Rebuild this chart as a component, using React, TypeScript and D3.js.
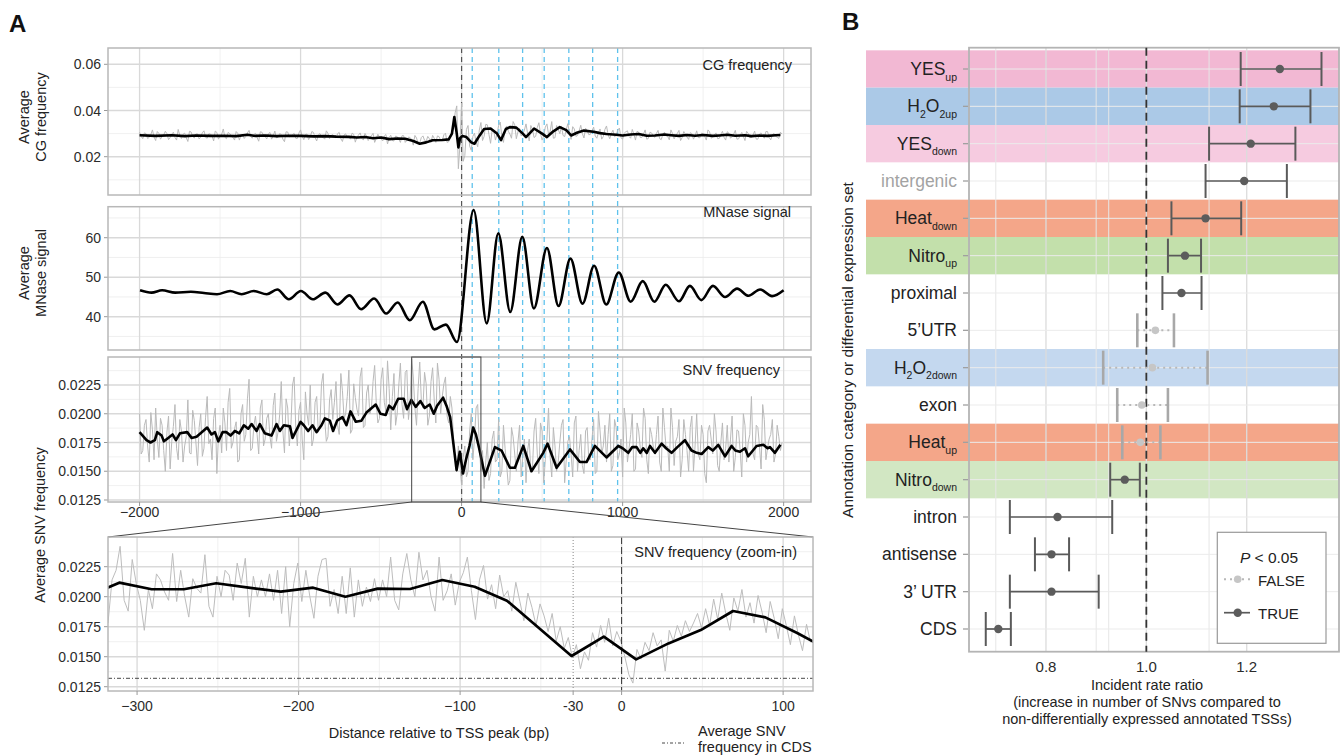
import * as d3 from "d3";

const FONT = "'Liberation Sans', Arial, Helvetica, sans-serif";

// ---------------- Panel A data ----------------
const topTicks = [-2000, -1000, 0, 1000, 2000];
const topTickLabels = ["−2000", "−1000", "0", "1000", "2000"];
const topMinor = [-1500, -500, 500, 1500];
// nucleosome positions marked with blue dashed lines
const nucleosomePeaks = [66, 231, 379, 513, 666, 814, 969];

// CG frequency (values x1e4)
const cgTicks = [0.02, 0.04, 0.06];
const cgMinor = [0.01, 0.03, 0.05];
const cgSmooth: [number, number][] = [
  [-2000, 293], [-1900, 290], [-1800, 293], [-1720, 289], [-1650, 292], [-1560, 290], [-1480, 291],
  [-1400, 289], [-1330, 295], [-1280, 290], [-1220, 292], [-1150, 289], [-1080, 291], [-1000, 290],
  [-920, 288], [-850, 289], [-780, 287], [-700, 286], [-650, 283], [-600, 285], [-550, 280], [-500, 283],
  [-450, 276], [-400, 279], [-350, 278], [-300, 268], [-260, 256], [-220, 262], [-180, 271], [-120, 272],
  [-80, 275], [-60, 300], [-45, 372], [-30, 300], [-20, 240], [-10, 280], [5, 290], [30, 285], [60, 262],
  [80, 256], [110, 290], [140, 320], [180, 322], [220, 300], [245, 272], [275, 320], [300, 328], [340, 326],
  [380, 300], [400, 285], [450, 322], [500, 300], [530, 285], [570, 310], [610, 328], [650, 315], [680, 292],
  [720, 305], [760, 313], [820, 308], [860, 302], [900, 298], [960, 295], [1000, 292], [1050, 296],
  [1100, 298], [1150, 291], [1200, 292], [1260, 296], [1300, 293], [1350, 290], [1400, 294], [1450, 291],
  [1500, 294], [1560, 290], [1600, 292], [1650, 295], [1700, 291], [1760, 293], [1800, 289], [1850, 292],
  [1900, 290], [1950, 293], [1980, 294],
];
// raw CG frequency (x1e4): series A every 20 bp from -2000, series B every 20 bp from -1990
const rawStart = -2000;
const rawStep = 20;
const cgRawA = [
  306, 278, 300, 284, 316, 270, 301, 288, 310, 274, 297, 283, 318, 279, 302, 266, 307, 281, 299, 285,
  312, 280, 298, 268, 305, 289, 320, 278, 300, 284, 309, 272, 296, 288, 314, 280, 301, 267, 306, 287,
  299, 276, 311, 284, 296, 265, 307, 288, 301, 279, 316, 274, 298, 286, 305, 268, 300, 283, 312, 278,
  296, 281, 305, 266, 299, 284, 302, 263, 294, 280, 301, 270, 291, 262, 297, 277, 290, 255, 293, 268,
  287, 262, 291, 270, 283, 250, 281, 260, 290, 266, 278, 292, 262, 287, 270, 302, 265, 305, 390, 148,
  432, 205, 335, 228, 302, 243, 348, 288, 338, 258, 312, 297, 350, 262, 333, 298, 352, 278, 323, 297,
  342, 268, 318, 288, 347, 272, 328, 297, 352, 282, 318, 333, 287, 343, 275, 320, 292, 336, 281, 314,
  297, 328, 280, 320, 287, 333, 278, 315, 292, 324, 276, 308, 287, 318, 272, 306, 284, 316, 279, 303,
  284, 314, 274, 306, 288, 316, 277, 301, 270, 309, 285, 304, 276, 312, 282, 300, 272, 308, 286, 303,
  279, 310, 272, 302, 287, 314, 277, 305, 270, 301, 284, 311, 276, 303, 280, 309, 273, 301, 285, 306,
];
const cgRawB = [
  288, 303, 279, 296, 285, 309, 276, 294, 300, 283, 306, 272, 292, 297, 282, 310, 287, 298, 277, 304,
  284, 299, 291, 311, 276, 297, 284, 305, 290, 272, 301, 293, 279, 303, 288, 296, 283, 308, 292, 277,
  305, 289, 282, 300, 276, 308, 286, 295, 280, 303, 289, 296, 274, 309, 283, 294, 288, 276, 301, 292,
  287, 300, 278, 294, 283, 276, 297, 285, 303, 272, 289, 282, 301, 279, 285, 268, 296, 283, 270, 289,
  276, 291, 262, 285, 274, 292, 258, 283, 271, 288, 262, 280, 290, 270, 295, 262, 290, 320, 420, 250,
  180, 318, 246, 288, 262, 315, 270, 340, 296, 318, 272, 335, 286, 318, 310, 280, 338, 308, 290, 315,
  300, 335, 283, 326, 300, 290, 342, 310, 280, 335, 300, 292, 318, 302, 330, 288, 312, 300, 323, 295,
  312, 290, 305, 276, 318, 295, 300, 287, 315, 282, 302, 312, 280, 298, 310, 283, 298, 276, 306, 290,
  301, 278, 296, 290, 273, 300, 292, 314, 283, 296, 275, 300, 290, 283, 302, 288, 316, 280, 294, 278,
  296, 284, 308, 280, 298, 276, 292, 288, 310, 282, 294, 276, 298, 290, 309, 283, 295, 288, 279, 298,
];

// MNase signal (peaks and troughs)
const mnaseTicks = [40, 50, 60];
const mnaseMinor = [35, 45, 55, 65];
const mnaseSmooth: [number, number][] = [
  [-1997, 46.7], [-1925, 46.1], [-1860, 46.7], [-1779, 46.1], [-1681, 46.3], [-1600, 46.0], [-1519, 45.7],
  [-1437, 46.5], [-1366, 45.7], [-1291, 46.5], [-1210, 45.7], [-1145, 46.9], [-1073, 44.4], [-998, 46.5],
  [-924, 44.4], [-846, 46.1], [-771, 43.1], [-696, 45.4], [-624, 41.9], [-543, 44.6], [-468, 40.8],
  [-397, 43.6], [-322, 39.1], [-241, 43.8], [-169, 36.8], [-98, 38.0], [-29, 33.6], [75, 67.0], [156, 38.3],
  [228, 61.1], [302, 41.2], [377, 60.2], [449, 42.1], [530, 57.4], [602, 42.7], [676, 54.7], [751, 43.3],
  [823, 52.9], [898, 43.1], [976, 51.2], [1050, 43.8], [1125, 49.0], [1197, 43.8], [1268, 48.1],
  [1350, 43.9], [1418, 47.8], [1489, 44.2], [1561, 47.8], [1636, 45.0], [1711, 47.1], [1782, 45.3],
  [1854, 46.9], [1928, 45.2], [2000, 46.7],
];

// SNV frequency (x1e4)
const snvTicks = [0.0125, 0.015, 0.0175, 0.02, 0.0225];
const snvMinor = [0.01375, 0.01625, 0.01875, 0.02125, 0.02375];
const snvTickLabels = ["0.0125", "0.0150", "0.0175", "0.0200", "0.0225"];
const snvSmooth: [number, number][] = [
  [-2000, 184], [-1981, 181], [-1957, 177], [-1932, 175], [-1905, 177], [-1890, 184], [-1863, 181],
  [-1849, 176], [-1822, 179], [-1795, 182], [-1774, 177], [-1749, 183], [-1704, 184], [-1677, 179],
  [-1646, 180], [-1621, 183], [-1580, 188], [-1553, 182], [-1532, 184], [-1511, 176], [-1484, 184],
  [-1460, 184], [-1435, 181], [-1408, 185], [-1381, 183], [-1352, 190], [-1325, 187], [-1304, 191],
  [-1273, 185], [-1253, 191], [-1222, 183], [-1180, 181], [-1149, 191], [-1129, 185], [-1104, 190],
  [-1066, 189], [-1050, 179], [-1025, 186], [-1000, 193], [-980, 190], [-953, 185], [-926, 190],
  [-901, 184], [-870, 190], [-849, 196], [-818, 194], [-798, 185], [-773, 194], [-740, 197], [-715, 190],
  [-690, 202], [-657, 193], [-622, 194], [-591, 201], [-533, 208], [-504, 200], [-471, 199], [-450, 207],
  [-425, 204], [-394, 213], [-359, 213], [-339, 204], [-312, 212], [-285, 206], [-256, 211], [-229, 205],
  [-198, 208], [-173, 200], [-152, 207], [-115, 214], [-94, 207], [-71, 197], [-31, 151], [-11, 167],
  [9, 148], [29, 161], [49, 172], [72, 188], [89, 182], [109, 170], [145, 146], [207, 171], [248, 168],
  [300, 153], [331, 153], [383, 172], [434, 150], [507, 166], [534, 174], [590, 153], [673, 169],
  [735, 158], [776, 158], [828, 172], [900, 162], [973, 172], [1000, 170], [1035, 166], [1060, 171],
  [1087, 171], [1110, 166], [1128, 170], [1150, 166], [1170, 172], [1201, 166], [1242, 174], [1270, 170],
  [1304, 166], [1340, 171], [1387, 177], [1428, 168], [1460, 166], [1491, 165], [1532, 171], [1560, 168],
  [1594, 173], [1636, 163], [1677, 172], [1700, 168], [1729, 167], [1760, 170], [1780, 163], [1832, 172],
  [1874, 173], [1900, 170], [1915, 171], [1946, 166], [1980, 173],
];
// raw SNV frequency (x1e4): series A every 20 bp from -2000, series B every 20 bp from -1990
const snvRawA = [
  200, 168, 195, 158, 186, 205, 162, 190, 150, 198, 176, 208, 160, 185, 172, 212, 165, 194, 155, 200,
  170, 215, 178, 196, 148, 190, 205, 168, 222, 175, 193, 160, 208, 182, 230, 170, 198, 165, 212, 178,
  200, 170, 218, 184, 228, 166, 205, 190, 232, 172, 210, 160, 200, 225, 178, 215, 190, 235, 176, 212,
  195, 228, 182, 220, 200, 238, 186, 214, 198, 240, 190, 225, 205, 242, 192, 230, 210, 246, 186, 235,
  200, 244, 196, 238, 210, 232, 190, 245, 205, 226, 198, 240, 192, 230, 215, 232, 192, 205, 160, 172,
  138, 172, 150, 200, 178, 208, 150, 135, 175, 148, 185, 160, 145, 190, 155, 142, 180, 150, 190, 162,
  140, 178, 152, 196, 148, 185, 160, 205, 145, 172, 158, 190, 140, 176, 165, 192, 150, 182, 148, 188,
  160, 195, 150, 185, 172, 158, 200, 155, 188, 165, 145, 192, 170, 200, 152, 185, 162, 196, 148, 182,
  165, 198, 150, 188, 172, 205, 155, 180, 145, 195, 168, 188, 150, 200, 160, 182, 140, 190, 165, 185,
  150, 192, 170, 158, 198, 162, 185, 145, 190, 175, 215, 160, 188, 152, 195, 170, 182, 158, 190, 168,
];
const snvRawB = [
  165, 190, 172, 201, 160, 178, 196, 168, 184, 152, 189, 170, 195, 158, 180, 166, 203, 175, 188, 163,
  197, 174, 160, 205, 181, 166, 192, 210, 170, 187, 158, 200, 176, 213, 168, 190, 182, 205, 172, 196,
  180, 207, 176, 199, 185, 213, 172, 225, 188, 203, 178, 219, 190, 172, 210, 184, 226, 195, 180, 221,
  210, 190, 235, 196, 215, 183, 226, 204, 232, 188, 218, 200, 228, 210, 196, 240, 202, 222, 215, 190,
  225, 208, 236, 195, 248, 205, 222, 212, 236, 190, 228, 212, 244, 200, 226, 198, 215, 178, 150, 155,
  162, 145, 185, 160, 205, 172, 168, 158, 142, 178, 158, 195, 150, 170, 138, 188, 165, 175, 145, 178,
  168, 150, 185, 165, 192, 140, 178, 162, 188, 150, 175, 195, 160, 180, 145, 198, 168, 155, 185, 160,
  178, 148, 202, 165, 190, 182, 150, 195, 160, 178, 205, 158, 182, 150, 192, 170, 205, 160, 188, 172,
  182, 158, 205, 170, 150, 188, 176, 195, 160, 182, 150, 198, 172, 165, 190, 148, 185, 178, 200, 155,
  175, 160, 190, 178, 150, 186, 168, 200, 158, 182, 165, 190, 172, 208, 160, 178, 195, 165, 180, 175,
];

// zoom-in on the TSS
const zoomWindow = [-310, 120];
const zoomTicks = [-300, -200, -100, -30, 0, 100];
const zoomTickLabels = ["−300", "−200", "−100", "-30", "0", "100"];
const zoomMinor = [-250, -150, -50, 50];
const zoomSmooth: [number, number][] = [
  [-331, 200], [-311, 211.7], [-291, 206.2], [-271, 206.2], [-251, 211.2], [-231, 207.5], [-211, 204.2],
  [-191, 207.5], [-171, 200], [-151, 206.7], [-131, 206.4], [-111, 213.9], [-91, 208.3], [-71, 196.7],
  [-31, 150.6], [-11, 166.7], [9, 147.8], [29, 161.1], [49, 172.2], [69, 188.1], [89, 182.8], [109, 169.5],
  [129, 155],
];
// raw SNV frequency every 2.5 bp from -318 (x1e4)
const zoomRawStart = -318;
const zoomRawStep = 2.5;
const zoomRaw = [
  178, 214, 222, 242, 197, 188, 231, 211, 197, 172, 206, 190, 219, 214, 204, 197, 236, 196, 222, 200,
  183, 215, 207, 203, 235, 192, 183, 217, 200, 222, 218, 197, 228, 211, 232, 183, 217, 200, 214, 200,
  219, 197, 222, 186, 225, 175, 211, 228, 196, 222, 200, 182, 217, 231, 232, 192, 206, 186, 217, 186,
  224, 183, 214, 192, 208, 196, 215, 197, 214, 200, 233, 197, 189, 219, 236, 214, 200, 237, 214, 222,
  200, 188, 233, 197, 205, 219, 193, 212,
  220, 233, 205, 181, 214, 226, 198, 210, 190, 218, 200,
  205, 188, 212, 196, 180, 203, 191, 176, 194, 184,
  171, 186, 163, 175, 157, 166, 149, 160, 140, 154,
  147, 170, 158, 176, 162, 182, 159, 171, 163,
  150, 135, 128, 156,
  148, 162, 155, 170, 159, 164, 138, 172, 163, 176, 167, 180, 171, 178, 186, 174,
  190, 176, 198, 181, 203, 186, 172, 199, 188, 206, 183, 195, 178, 201, 187, 170, 196, 182, 165, 190,
  176, 160, 184, 168, 155, 177, 162,
];
const cdsAverage = 0.0132;

// ---------------- Panel B data ----------------
const categories = [
  "YES_{up}", "H_{2}O_{2up}", "YES_{down}", "intergenic", "Heat_{down}", "Nitro_{up}", "proximal", "5’UTR",
  "H_{2}O_{2down}", "exon", "Heat_{up}", "Nitro_{down}", "intron", "antisense", "3’ UTR", "CDS",
];
const irr = [1.266, 1.254, 1.208, 1.195, 1.118, 1.077, 1.07, 1.018, 1.012, 0.991, 0.988, 0.957, 0.823, 0.811, 0.811, 0.705];
const irrLow = [1.188, 1.186, 1.125, 1.118, 1.05, 1.043, 1.032, 0.982, 0.914, 0.942, 0.952, 0.928, 0.728, 0.778, 0.728, 0.68];
const irrHigh = [1.349, 1.327, 1.297, 1.28, 1.189, 1.109, 1.11, 1.055, 1.122, 1.043, 1.028, 0.987, 0.932, 0.846, 0.905, 0.73];
const significant = [true, true, true, true, true, true, true, false, false, false, false, true, true, true, true, true];
const bandColors = [
  "#f2b8d3", "#abc9e7", "#f6cbe0", null, "#f4a689", "#c3e0ab", null, null,
  "#c4d8ef", null, "#f4a689", "#d2e7c3", null, null, null, null,
];
const bTicks = [0.8, 1.0, 1.2];
const bTickLabels = ["0.8", "1.0", "1.2"];
const bMinor = [0.7, 0.9, 0.925, 1.125];

// ---------------- scales ----------------
const xTop = d3.scaleLinear().domain([-2196, 2170]).range([108, 811]);
const yCG = d3.scaleLinear().domain([0.00342, 0.06706]).range([195, 48]);
const yMN = d3.scaleLinear().domain([31.57, 67.85]).range([350, 206.7]);
const ySNV = d3.scaleLinear().domain([0.012326, 0.024935]).range([502, 357]);
const xZoom = d3.scaleLinear().domain([-318, 118.5]).range([108, 813]);
const yZoom = d3.scaleLinear().domain([0.012142, 0.024975]).range([691, 537]);
const xB = d3.scaleLinear().domain([0.6466, 1.3839]).range([969, 1339]);
const yB = d3.scalePoint<string>().domain(categories).range([69, 629]);

type Sc = d3.ScaleLinear<number, number>;

function Frame(props: {
  id: string; xs: Sc; ys: Sc; xMaj: number[]; xMin: number[]; yMaj: number[]; yMin: number[];
  yLabels: string[];
}) {
  const { id, xs, ys, xMaj, xMin, yMaj, yMin, yLabels } = props;
  const [x0, x1] = xs.range();
  const [y1, y0] = ys.range();
  return (
    <g>
      <clipPath id={id}>
        <rect x={x0} y={y0} width={x1 - x0} height={y1 - y0} />
      </clipPath>
      <rect x={x0} y={y0} width={x1 - x0} height={y1 - y0} fill="#fff" />
      {yMin.map((v) => (
        <line key={"ym" + v} x1={x0} x2={x1} y1={ys(v)} y2={ys(v)} stroke="#ececec" strokeWidth={0.8} />
      ))}
      {xMin.map((v) => (
        <line key={"xm" + v} x1={xs(v)} x2={xs(v)} y1={y0} y2={y1} stroke="#ececec" strokeWidth={0.8} />
      ))}
      {yMaj.map((v) => (
        <line key={"yM" + v} x1={x0} x2={x1} y1={ys(v)} y2={ys(v)} stroke="#d9d9d9" strokeWidth={1.4} />
      ))}
      {xMaj.map((v) => (
        <line key={"xM" + v} x1={xs(v)} x2={xs(v)} y1={y0} y2={y1} stroke="#d9d9d9" strokeWidth={1.3} />
      ))}
      {yMaj.map((v, i) => (
        <g key={"yt" + v}>
          <line x1={x0 - 4} x2={x0} y1={ys(v)} y2={ys(v)} stroke="#999" strokeWidth={1} />
          <text x={x0 - 7} y={ys(v) + 5} textAnchor="end" fontSize={14} fill="#2b2b2b">
            {yLabels[i]}
          </text>
        </g>
      ))}
    </g>
  );
}

function Border({ xs, ys }: { xs: Sc; ys: Sc }) {
  const [x0, x1] = xs.range();
  const [y1, y0] = ys.range();
  return <rect x={x0} y={y0} width={x1 - x0} height={y1 - y0} fill="none" stroke="#b8b8b8" strokeWidth={1.5} />;
}

function richLabel(s: string) {
  const parts = s.split(/(_\{[^}]*\})/).filter(Boolean);
  let sub = false;
  return parts.map((p, i) => {
    if (p.startsWith("_{")) {
      const el = (
        <tspan key={i} fontSize={10.5} dy={sub ? 0 : 5.5}>
          {p.slice(2, -1)}
        </tspan>
      );
      sub = true;
      return el;
    }
    const el = (
      <tspan key={i} dy={sub ? -5.5 : 0}>
        {p}
      </tspan>
    );
    sub = false;
    return el;
  });
}

// interleave two raw series sampled on offset 20 bp grids
function interleave(a: number[], b: number[], start: number, step: number): [number, number][] {
  const out: [number, number][] = [];
  a.forEach((v, i) => {
    out.push([start + i * step, v]);
    if (i < b.length) out.push([start + step / 2 + i * step, b[i]]);
  });
  return out;
}

export default function App() {
  const line = (xs: Sc, ys: Sc, k: number) =>
    d3.line<[number, number]>().x((d) => xs(d[0])).y((d) => ys(d[1] / k));
  const rawPts = (arr: number[], start: number, step: number): [number, number][] =>
    arr.map((v, i) => [start + i * step, v]);

  const cgLine = line(xTop, yCG, 1e4);
  const snvLine = line(xTop, ySNV, 1e4);
  const zoomLine = line(xZoom, yZoom, 1e4);
  const mnLine = d3
    .line<[number, number]>()
    .x((d) => xTop(d[0]))
    .y((d) => yMN(d[1]))
    .curve(d3.curveMonotoneX);

  const step = yB.step();
  const bTop = 47.7;
  const bBottom = 651.7;

  return (
    <svg
      width={1342}
      height={756}
      style={{ position: "absolute", left: 0, top: 0, background: "#fff" }}
      fontFamily={FONT}
    >
      {/* ===== Panel A ===== */}
      <text x={9} y={32} fontSize={24} fontWeight="bold" fill="#111">A</text>

      <Frame id="cA" xs={xTop} ys={yCG} xMaj={topTicks} xMin={topMinor} yMaj={cgTicks} yMin={cgMinor}
        yLabels={cgTicks.map((v) => d3.format(".2f")(v))} />
      <Frame id="cB" xs={xTop} ys={yMN} xMaj={topTicks} xMin={topMinor} yMaj={mnaseTicks} yMin={mnaseMinor}
        yLabels={mnaseTicks.map(String)} />
      <Frame id="cC" xs={xTop} ys={ySNV} xMaj={topTicks} xMin={topMinor} yMaj={snvTicks} yMin={snvMinor}
        yLabels={snvTickLabels} />
      <Frame id="cD" xs={xZoom} ys={yZoom} xMaj={zoomTicks.filter((v) => v !== -30)} xMin={zoomMinor}
        yMaj={snvTicks} yMin={snvMinor} yLabels={snvTickLabels} />

      {/* reference lines across the three upper panels */}
      {nucleosomePeaks.map((p) => (
        <line key={p} x1={xTop(p)} x2={xTop(p)} y1={48} y2={502} stroke="#5fc2ec" strokeWidth={1.3}
          strokeDasharray="5 4" />
      ))}
      <line x1={xTop(0)} x2={xTop(0)} y1={48} y2={502} stroke="#555" strokeWidth={1.2} strokeDasharray="5 4" />

      {/* CG */}
      <g clipPath="url(#cA)">
        <path d={cgLine(interleave(cgRawA, cgRawB, rawStart, rawStep)) ?? ""} fill="none" stroke="#bababa"
          strokeWidth={1} />
        <path d={cgLine(cgSmooth) ?? ""} fill="none" stroke="#000" strokeWidth={2.6} strokeLinejoin="round" />
      </g>
      {/* MNase */}
      <g clipPath="url(#cB)">
        <path d={mnLine(mnaseSmooth) ?? ""} fill="none" stroke="#000" strokeWidth={2.6} />
      </g>
      {/* SNV */}
      <g clipPath="url(#cC)">
        <path d={snvLine(interleave(snvRawA, snvRawB, rawStart, rawStep)) ?? ""} fill="none" stroke="#bababa"
          strokeWidth={1} />
        <path d={snvLine(snvSmooth) ?? ""} fill="none" stroke="#000" strokeWidth={2.6} strokeLinejoin="round" />
      </g>

      <Border xs={xTop} ys={yCG} />
      <Border xs={xTop} ys={yMN} />
      <Border xs={xTop} ys={ySNV} />

      <text x={792} y={70} textAnchor="end" fontSize={14.5} fill="#222">CG frequency</text>
      <text x={791} y={217} textAnchor="end" fontSize={14.5} fill="#222">MNase signal</text>
      <text x={780} y={375} textAnchor="end" fontSize={14.5} fill="#222">SNV frequency</text>

      {/* x axis of SNV panel */}
      {topTicks.map((v, i) => (
        <g key={v}>
          <line x1={xTop(v)} x2={xTop(v)} y1={502} y2={506} stroke="#999" />
          <text x={xTop(v)} y={517} textAnchor="middle" fontSize={14} fill="#2b2b2b">{topTickLabels[i]}</text>
        </g>
      ))}

      {/* zoom window and connectors */}
      <rect x={xTop(zoomWindow[0])} y={357} width={xTop(zoomWindow[1]) - xTop(zoomWindow[0])} height={145}
        fill="none" stroke="#444" strokeWidth={1} />
      <line x1={xTop(zoomWindow[0])} y1={502} x2={108} y2={537} stroke="#444" strokeWidth={1} />
      <line x1={xTop(zoomWindow[1])} y1={502} x2={813} y2={537} stroke="#444" strokeWidth={1} />

      {/* zoom-in panel */}
      <g clipPath="url(#cD)">
        <line x1={xZoom(-30)} x2={xZoom(-30)} y1={537} y2={691} stroke="#888" strokeWidth={1} strokeDasharray="1 2" />
        <line x1={108} x2={813} y1={yZoom(cdsAverage)} y2={yZoom(cdsAverage)} stroke="#333" strokeWidth={0.9}
          strokeDasharray="4 2 1 2" />
        <path d={zoomLine(rawPts(zoomRaw, zoomRawStart, zoomRawStep)) ?? ""} fill="none" stroke="#bdbdbd"
          strokeWidth={1} />
        <line x1={xZoom(0)} x2={xZoom(0)} y1={537} y2={691} stroke="#333" strokeWidth={1} strokeDasharray="7 3" />
        <path d={zoomLine(zoomSmooth) ?? ""} fill="none" stroke="#000" strokeWidth={2.7} strokeLinejoin="round" />
      </g>
      <Border xs={xZoom} ys={yZoom} />
      <text x={797} y={557} textAnchor="end" fontSize={14.5} fill="#222">SNV frequency (zoom-in)</text>
      {zoomTicks.map((v, i) => (
        <g key={v}>
          <line x1={xZoom(v)} x2={xZoom(v)} y1={691} y2={695} stroke="#999" />
          <text x={xZoom(v)} y={711} textAnchor="middle" fontSize={14} fill="#2b2b2b">{zoomTickLabels[i]}</text>
        </g>
      ))}

      {/* axis titles A */}
      <text transform="translate(29,117) rotate(-90)" textAnchor="middle" fontSize={14.5} fill="#222">Average</text>
      <text transform="translate(46,117) rotate(-90)" textAnchor="middle" fontSize={14.5} fill="#222">CG frequency</text>
      <text transform="translate(29,273) rotate(-90)" textAnchor="middle" fontSize={14.5} fill="#222">Average</text>
      <text transform="translate(46,273) rotate(-90)" textAnchor="middle" fontSize={14.5} fill="#222">MNase signal</text>
      <text transform="translate(45,525) rotate(-90)" textAnchor="middle" fontSize={14.5} fill="#222">
        Average SNV frequency
      </text>
      <text x={439} y={738} textAnchor="middle" fontSize={14.5} fill="#222">Distance relative to TSS peak (bp)</text>

      {/* CDS legend */}
      <line x1={662} x2={685} y1={743} y2={743} stroke="#333" strokeWidth={0.9} strokeDasharray="3 2 1 2" />
      <text x={698} y={736} fontSize={14.5} fill="#222">Average SNV</text>
      <text x={698} y={752} fontSize={14.5} fill="#222">frequency in CDS</text>

      {/* ===== Panel B ===== */}
      <text x={842} y={30} fontSize={24} fontWeight="bold" fill="#111">B</text>
      <rect x={969} y={bTop} width={370} height={bBottom - bTop} fill="#fff" />
      {categories.map((c, i) =>
        bandColors[i] ? (
          <rect key={"band" + c} x={866} y={(yB(c) ?? 0) - step / 2} width={1339 - 866} height={step}
            fill={bandColors[i] as string} />
        ) : null
      )}
      {bMinor.map((v) => (
        <line key={"bm" + v} x1={xB(v)} x2={xB(v)} y1={bTop} y2={bBottom} stroke="#e6e6e6" strokeWidth={1} />
      ))}
      {bTicks.map((v) => (
        <line key={"bM" + v} x1={xB(v)} x2={xB(v)} y1={bTop} y2={bBottom} stroke="#dcdcdc" strokeWidth={1.3} />
      ))}
      {categories.map((c) => (
        <line key={"bh" + c} x1={969} x2={1339} y1={yB(c)} y2={yB(c)} stroke="#ebebeb" strokeWidth={1} />
      ))}
      <rect x={969} y={bTop} width={370} height={bBottom - bTop} fill="none" stroke="#b4b4b4" strokeWidth={1.8} />
      <line x1={xB(1)} x2={xB(1)} y1={bTop} y2={bBottom} stroke="#333" strokeWidth={1.8} strokeDasharray="8 5" />

      {categories.map((c, i) => {
        const y = yB(c) ?? 0;
        const sig = significant[i];
        const capColor = sig ? "#5a5a5a" : "#a8a8a8";
        return (
          <g key={"eb" + c}>
            <line x1={xB(irrLow[i])} x2={xB(irrHigh[i])} y1={y} y2={y} stroke={sig ? "#5a5a5a" : "#b8b8b8"}
              strokeWidth={sig ? 1.7 : 2} strokeDasharray={sig ? undefined : "2 4"} />
            <line x1={xB(irrLow[i])} x2={xB(irrLow[i])} y1={y - 17} y2={y + 17} stroke={capColor}
              strokeWidth={sig ? 2 : 2.6} />
            <line x1={xB(irrHigh[i])} x2={xB(irrHigh[i])} y1={y - 17} y2={y + 17} stroke={capColor}
              strokeWidth={sig ? 2 : 2.6} />
            <circle cx={xB(irr[i])} cy={y} r={sig ? 4.2 : 3.8} fill={sig ? "#5c5c5c" : "#c6c6c6"} />
          </g>
        );
      })}

      {/* row labels */}
      {categories.map((c) => (
        <g key={"lab" + c}>
          <line x1={963} x2={968} y1={yB(c)} y2={yB(c)} stroke="#a0a0a0" strokeWidth={1.3} />
          <text x={957} y={(yB(c) ?? 0) + 6} textAnchor="end" fontSize={17.5}
            fill={c === "intergenic" ? "#a3a3a3" : "#222"}>
            {richLabel(c)}
          </text>
        </g>
      ))}

      {bTicks.map((v, i) => (
        <text key={"bt" + v} x={xB(v)} y={672} textAnchor="middle" fontSize={15} fill="#2b2b2b">
          {bTickLabels[i]}
        </text>
      ))}
      <text x={1147} y={690} textAnchor="middle" fontSize={14.5} fill="#222">Incident rate ratio</text>
      <text x={1147} y={707} textAnchor="middle" fontSize={14.5} fill="#222">
        (increase in number of SNvs compared to
      </text>
      <text x={1147} y={724} textAnchor="middle" fontSize={14.5} fill="#222">
        non-differentially expressed annotated TSSs)
      </text>
      <text transform="translate(853,350) rotate(-90)" textAnchor="middle" fontSize={15.5} fill="#222">
        Annotation category or differential expression set
      </text>

      {/* legend */}
      <rect x={1217.3} y={532.3} width={108.7} height={111} fill="#fff" stroke="#999" strokeWidth={1.2} />
      <text x={1269} y={563} textAnchor="middle" fontSize={15.5} fill="#222">
        <tspan fontStyle="italic">P</tspan> {"< 0.05"}
      </text>
      <line x1={1224} x2={1250} y1={579.3} y2={579.3} stroke="#b8b8b8" strokeWidth={2} strokeDasharray="2 4" />
      <circle cx={1237.7} cy={579.3} r={3.8} fill="#c6c6c6" />
      <text x={1258} y={585.5} fontSize={15} fill="#222">FALSE</text>
      <line x1={1224} x2={1250} y1={612.7} y2={612.7} stroke="#5a5a5a" strokeWidth={1.7} />
      <circle cx={1237.7} cy={612.7} r={4.2} fill="#5c5c5c" />
      <text x={1258} y={618.7} fontSize={15} fill="#222">TRUE</text>
    </svg>
  );
}
